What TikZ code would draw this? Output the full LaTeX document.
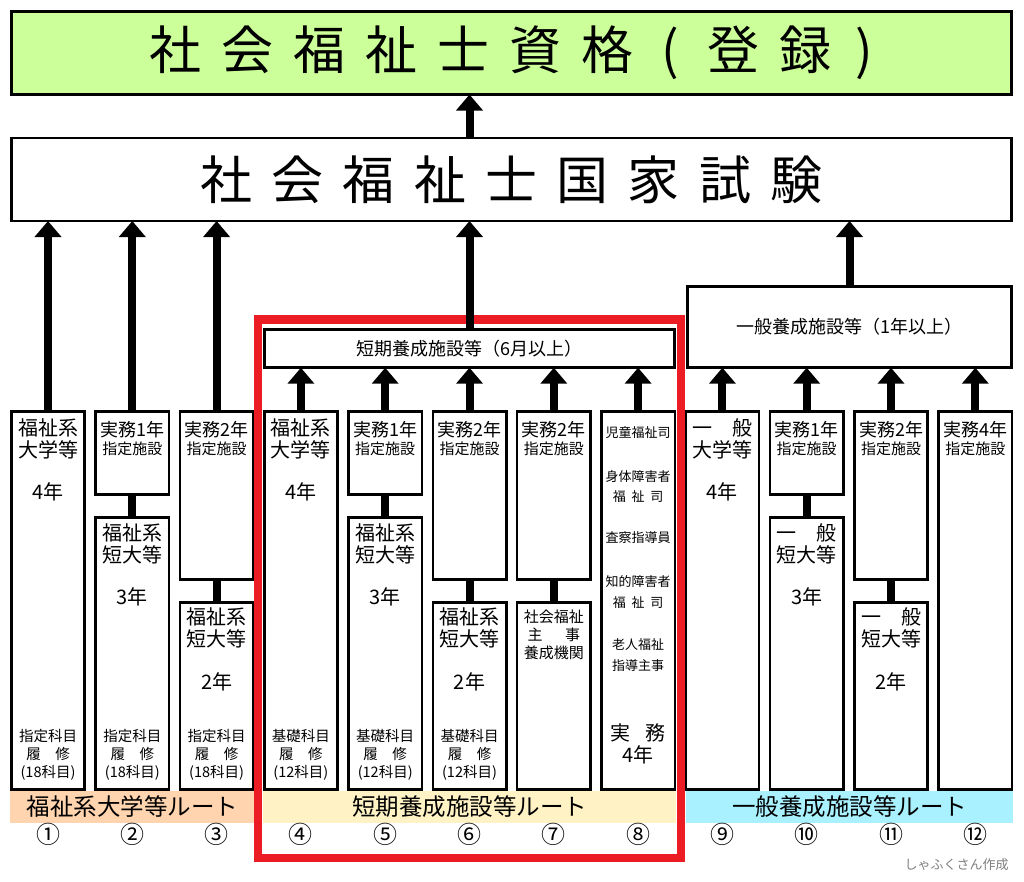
\documentclass[tikz,border=0pt]{standalone}
\usepackage{fontspec}
\setmainfont{Noto Sans CJK JP}
\usetikzlibrary{arrows.meta}

\definecolor{kakugreen}{HTML}{CCFF99}
\definecolor{routepeach}{HTML}{FFD4AE}
\definecolor{routecream}{HTML}{FFF3C5}
\definecolor{routecyan}{HTML}{AAF1FF}
\definecolor{framered}{HTML}{EC1C24}
\newcommand\gp[1][0.37em]{\hspace{#1}}

\begin{document}
\begin{tikzpicture}[x = 1pt, y = -1pt, % one unit = one pixel, y runs down
                > = {Triangle[width = 26pt, length = 16pt]}, % arrow head style
                semithick % line style
            ]

            \tikzstyle{every node}=[inner sep = 0pt, outer sep = 0pt, align = center]
            \tikzstyle{banner}=[draw = black, line width = 2.6pt, fill = white,
            minimum width = 1000.4pt, minimum height = 83pt,
            font = \fontsize{52}{56}\selectfont]
            \tikzstyle{stage}=[draw = black, line width = 2.6pt, fill = white,
            font = \fontsize{18}{20}\selectfont]
            \tikzstyle{pillar}=[draw = black, line width = 2.6pt, fill = white,
            minimum width = 73.4pt]
            \tikzstyle{onepart}=[pillar, minimum height = 378.4pt]
            \tikzstyle{shorttop}=[pillar, minimum height = 83.4pt]
            \tikzstyle{longfoot}=[pillar, minimum height = 272.4pt]
            \tikzstyle{longtop}=[pillar, minimum height = 168.4pt]
            \tikzstyle{shortfoot}=[pillar, minimum height = 187.4pt]
            \tikzstyle{pipe}=[line width = 8pt]
            \tikzstyle{fatarrow}=[->, line width = 8pt]
            \tikzstyle{main}=[font = \fontsize{20}{22}\selectfont]
            \tikzstyle{work}=[font = \fontsize{18}{20}\selectfont]
            \tikzstyle{facility}=[font = \fontsize{15}{18}\selectfont]
            \tikzstyle{course}=[font = \fontsize{14.5}{18}\selectfont]
            \tikzstyle{duty}=[font = \fontsize{13}{20.5}\selectfont]
            \tikzstyle{route}=[minimum height = 32pt, font = \fontsize{23.5}{26}\selectfont]
            \tikzstyle{num}=[font = \fontsize{24}{26}\selectfont]
            \tikzstyle{credit}=[text = black!50, font = \fontsize{13}{15}\selectfont]

            \useasboundingbox[fill = white] (0, 0) rectangle (1024, 881);

            % qualification and exam
            \node[banner, fill = kakugreen] (title) at (511.5, 53) {社\gp[20pt]会\gp[20pt]福\gp[20pt]祉\gp[20pt]士\gp[20pt]資\gp[20pt]格\gp[28pt](\gp[28pt]登\gp[20pt]録\gp[24pt])};
            \node[banner] (exam) at (511.5, 179.5) {社\gp 会\gp 福\gp 祉\gp 士\gp 国\gp 家\gp 試\gp 験};

            % training schools
            \node[stage, minimum width = 410.4pt, minimum height = 38.4pt] (short) at (469.5, 348.5) {短期養成施設等（6月以上）};
            \node[stage, minimum width = 324.4pt, minimum height = 81.4pt] (general) at (849.5, 327) {一般養成施設等（1年以上）};

            % route bars
            \node[route, fill = routepeach, minimum width = 245pt] (r1) at (132.5, 807) {福祉系大学等ルート};
            \node[route, fill = routecream, minimum width = 413pt] (r2) at (469.5, 807) {短期養成施設等ルート};
            \node[route, fill = routecyan, minimum width = 327pt] (r3) at (849.5, 807) {一般養成施設等ルート};

            % columns
            \node[onepart] (1) at (48, 600.5) {};
            \node[shorttop] (2a) at (132.3, 453) {}; \node[longfoot] (2b) at (132.3, 653.5) {};
            \node[longtop] (3a) at (216.6, 495.5) {}; \node[shortfoot] (3b) at (216.6, 696) {};
            \node[onepart] (4) at (300.9, 600.5) {};
            \node[shorttop] (5a) at (385.2, 453) {}; \node[longfoot] (5b) at (385.2, 653.5) {};
            \node[longtop] (6a) at (469.5, 495.5) {}; \node[shortfoot] (6b) at (469.5, 696) {};
            \node[longtop] (7a) at (553.8, 495.5) {}; \node[shortfoot] (7b) at (553.8, 696) {};
            \node[onepart] (8) at (638.1, 600.5) {};
            \node[onepart] (9) at (722.4, 600.5) {};
            \node[shorttop] (10a) at (806.7, 453) {}; \node[longfoot] (10b) at (806.7, 653.5) {};
            \node[longtop] (11a) at (891, 495.5) {}; \node[shortfoot] (11b) at (891, 696) {};
            \node[onepart] (12) at (975.3, 600.5) {};

            \path[pipe] (2a) edge (2b) (3a) edge (3b) (5a) edge (5b) (6a) edge (6b)
            (7a) edge (7b) (10a) edge (10b) (11a) edge (11b);

            % column texts
            \node[main] (1t) at (48, 439) {福祉系\\大学等}; \node[main] (1y) at (48, 492) {4年};
            \node[course] (1c) at (48, 755) {指定科目\\履　修\\(18科目)};

            \node[work] (2t) at (132.3, 430) {実務1年}; \node[facility] (2f) at (132.3, 449) {指定施設};
            \node[main] (2u) at (132.3, 544) {福祉系\\短大等}; \node[main] (2y) at (132.3, 597) {3年};
            \node[course] (2c) at (132.3, 755) {指定科目\\履　修\\(18科目)};

            \node[work] (3t) at (216.6, 430) {実務2年}; \node[facility] (3f) at (216.6, 449) {指定施設};
            \node[main] (3u) at (216.6, 628) {福祉系\\短大等}; \node[main] (3y) at (216.6, 682) {2年};
            \node[course] (3c) at (216.6, 755) {指定科目\\履　修\\(18科目)};

            \node[main] (4t) at (300.9, 439) {福祉系\\大学等}; \node[main] (4y) at (300.9, 492) {4年};
            \node[course] (4c) at (300.9, 755) {基礎科目\\履　修\\(12科目)};

            \node[work] (5t) at (385.2, 430) {実務1年}; \node[facility] (5f) at (385.2, 449) {指定施設};
            \node[main] (5u) at (385.2, 544) {福祉系\\短大等}; \node[main] (5y) at (385.2, 597) {3年};
            \node[course] (5c) at (385.2, 755) {基礎科目\\履　修\\(12科目)};

            \node[work] (6t) at (469.5, 430) {実務2年}; \node[facility] (6f) at (469.5, 449) {指定施設};
            \node[main] (6u) at (469.5, 628) {福祉系\\短大等}; \node[main] (6y) at (469.5, 682) {2年};
            \node[course] (6c) at (469.5, 755) {基礎科目\\履　修\\(12科目)};

            \node[work] (7t) at (553.8, 430) {実務2年}; \node[facility] (7f) at (553.8, 449) {指定施設};
            \node[facility] (7u) at (553.8, 635) {社会福祉\\主\gp[1.5em]事\\養成機関};

            \node[duty] (8a) at (638.1, 433) {児童福祉司};
            \node[duty] (8b) at (638.1, 486.5) {身体障害者\\福\gp[.45em]祉\gp[.45em]司};
            \node[duty] (8c) at (638.1, 538) {査察指導員};
            \node[duty] (8d) at (638.1, 592) {知的障害者\\福\gp[.45em]祉\gp[.45em]司};
            \node[duty] (8e) at (638.1, 655) {老人福祉\\指導主事};
            \node[main] (8y) at (638.1, 744) {実\gp[.75em]務\\4年};

            \node[main] (9t) at (722.4, 439) {一　般\\大学等}; \node[main] (9y) at (722.4, 492) {4年};

            \node[work] (10t) at (806.7, 430) {実務1年}; \node[facility] (10f) at (806.7, 449) {指定施設};
            \node[main] (10u) at (806.7, 544) {一　般\\短大等}; \node[main] (10y) at (806.7, 597) {3年};

            \node[work] (11t) at (891, 430) {実務2年}; \node[facility] (11f) at (891, 449) {指定施設};
            \node[main] (11u) at (891, 628) {一　般\\短大等}; \node[main] (11y) at (891, 682) {2年};

            \node[work] (12t) at (975.3, 430) {実務4年}; \node[facility] (12f) at (975.3, 449) {指定施設};

            % red frame round the short route
            \draw[framered, line width = 8.5pt] (258, 319.5) rectangle (681, 858);

            % arrows
            \draw[fatarrow] (exam.north -| short) -- (title.south -| short);
            \draw[fatarrow] (1) -- (1 |- exam.south); \draw[fatarrow] (2a) -- (2a |- exam.south);
            \draw[fatarrow] (3a) -- (3a |- exam.south);
            \draw[fatarrow] (short) -- (short |- exam.south); \draw[fatarrow] (general) -- (general |- exam.south);
            \draw[fatarrow] (4) -- (4 |- short.south); \draw[fatarrow] (5a) -- (5a |- short.south);
            \draw[fatarrow] (6a) -- (6a |- short.south); \draw[fatarrow] (7a) -- (7a |- short.south);
            \draw[fatarrow] (8) -- (8 |- short.south);
            \draw[fatarrow] (9) -- (9 |- general.south); \draw[fatarrow] (10a) -- (10a |- general.south);
            \draw[fatarrow] (11a) -- (11a |- general.south); \draw[fatarrow] (12) -- (12 |- general.south);

            % route numbers
            \node[num] (n1) at (48, 834) {①}; \node[num] (n2) at (132.3, 834) {②};
            \node[num] (n3) at (216.6, 834) {③}; \node[num] (n4) at (300.9, 834) {④};
            \node[num] (n5) at (385.2, 834) {⑤}; \node[num] (n6) at (469.5, 834) {⑥};
            \node[num] (n7) at (553.8, 834) {⑦}; \node[num] (n8) at (638.1, 834) {⑧};
            \node[num] (n9) at (722.4, 834) {⑨}; \node[num] (n10) at (806.7, 834) {⑩};
            \node[num] (n11) at (891, 834) {⑪}; \node[num] (n12) at (975.3, 834) {⑫};

            \node[credit] (author) at (956.5, 865) {しゃふくさん作成};
\end{tikzpicture}
\end{document}
